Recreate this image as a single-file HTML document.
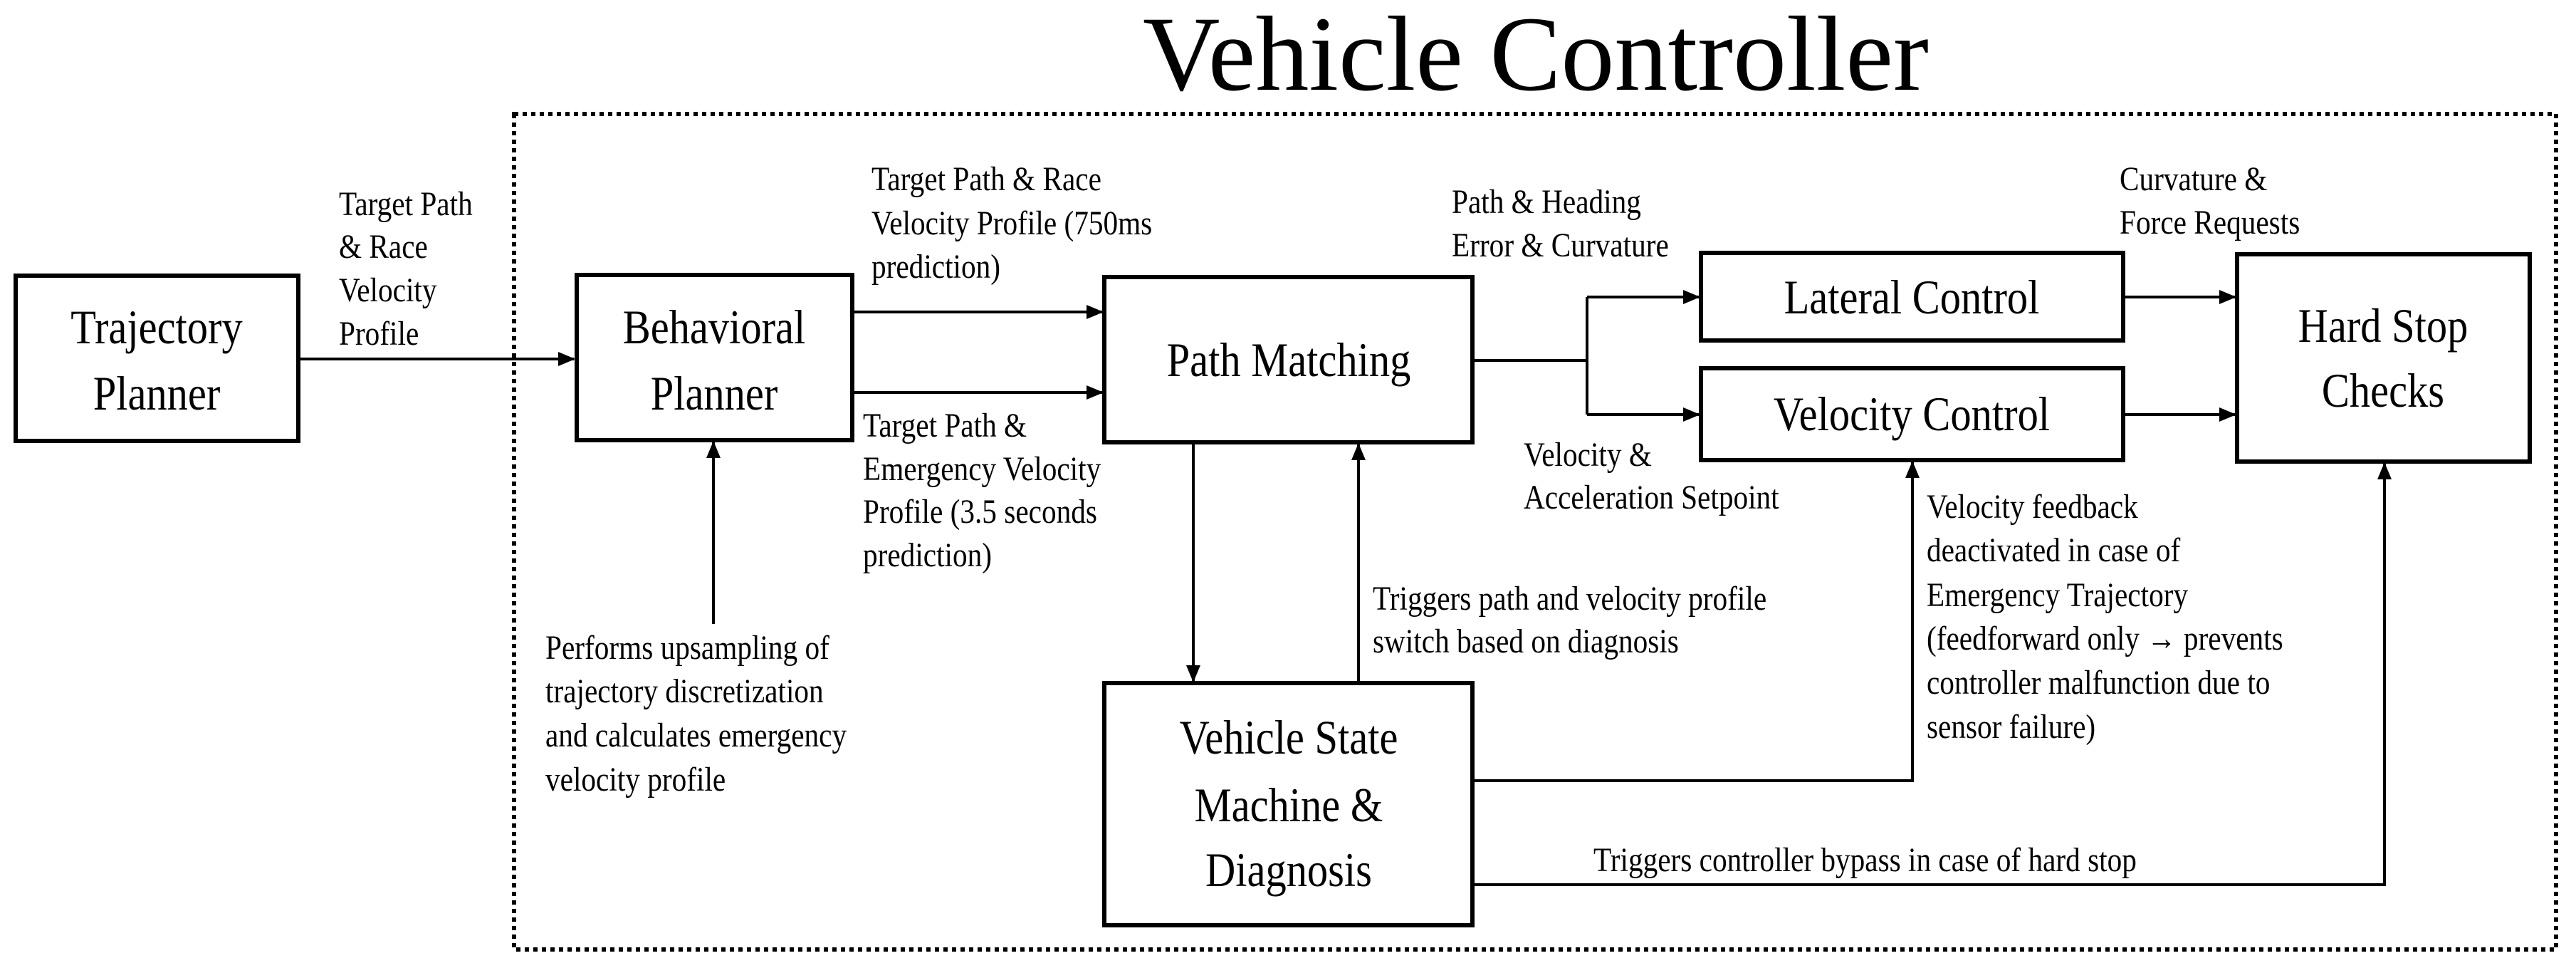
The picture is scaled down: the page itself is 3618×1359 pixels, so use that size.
<!DOCTYPE html>
<html><head><meta charset="utf-8"><style>
html,body{margin:0;padding:0;background:#fff;}
svg{display:block;}
text{font-family:"Liberation Serif",serif;fill:#000;}
.s text{font-size:48px;transform-box:fill-box;transform-origin:left center;transform:scaleX(0.86);}
.b text{font-size:68px;transform-box:fill-box;transform-origin:center center;transform:scaleX(0.86);}
</style></head><body>
<svg width="3618" height="1359" viewBox="0 0 3618 1359" xmlns="http://www.w3.org/2000/svg">
<defs>
<marker id="a" markerWidth="6" markerHeight="6" refX="5.5" refY="3" orient="auto" markerUnits="strokeWidth">
<path d="M0,0.5 L6,3 L0,5.5 z" fill="#000"/></marker>
</defs>
<text x="2157" y="126" font-size="150" text-anchor="middle">Vehicle Controller</text>
<rect x="722" y="160" width="2868" height="1173" fill="none" stroke="#000" stroke-width="6" stroke-dasharray="6,6"/>
<g fill="#fff" stroke="#000" stroke-width="6">
<rect x="22" y="387" width="397" height="232"/>
<rect x="810" y="386" width="387" height="232"/>
<rect x="1551" y="389" width="517" height="232"/>
<rect x="2389" y="355" width="593" height="123"/>
<rect x="2389" y="517" width="593" height="129"/>
<rect x="3142" y="357" width="411" height="291"/>
<rect x="1551" y="959" width="517" height="340"/>
</g>
<g class="b" text-anchor="middle">
<text x="220" y="482">Trajectory</text><text x="220" y="575">Planner</text>
<text x="1003" y="482">Behavioral</text><text x="1003" y="575">Planner</text>
<text x="1810" y="528">Path Matching</text>
<text x="2685" y="440">Lateral Control</text>
<text x="2685" y="604">Velocity Control</text>
<text x="3347" y="480">Hard Stop</text><text x="3347" y="571">Checks</text>
<text x="1810" y="1058">Vehicle State</text><text x="1810" y="1153">Machine &amp;</text><text x="1810" y="1244">Diagnosis</text>
</g>
<g fill="none" stroke="#000" stroke-width="4" marker-end="url(#a)">
<path d="M419,504 L806,504"/>
<path d="M1197,438 L1548,438"/>
<path d="M1197,551 L1548,551"/>
<path d="M1676,621 L1676,956"/>
<path d="M1908,959 L1908,624"/>
<path d="M2229,417 L2386,417"/>
<path d="M2229,582 L2386,582"/>
<path d="M2982,417 L3139,417"/>
<path d="M2982,582 L3139,582"/>
<path d="M2068,1096 L2686,1096 L2686,649"/>
<path d="M2068,1242 L3349,1242 L3349,651"/>
<path d="M1002,876 L1002,621"/>
</g>
<path d="M2068,506 L2229,506 M2229,417 L2229,582" stroke="#000" stroke-width="4" fill="none"/>
<g class="s">
<text x="476" y="302">Target Path</text><text x="476" y="362">&amp; Race</text><text x="476" y="423">Velocity</text><text x="476" y="484">Profile</text>
<text x="1224" y="267">Target Path &amp; Race</text><text x="1224" y="329">Velocity Profile (750ms</text><text x="1224" y="390">prediction)</text>
<text x="1212" y="613">Target Path &amp;</text><text x="1212" y="674">Emergency Velocity</text><text x="1212" y="734">Profile (3.5 seconds</text><text x="1212" y="795">prediction)</text>
<text x="766" y="925">Performs upsampling of</text><text x="766" y="986">trajectory discretization</text><text x="766" y="1048">and calculates emergency</text><text x="766" y="1110">velocity profile</text>
<text x="2039" y="299">Path &amp; Heading</text><text x="2039" y="360">Error &amp; Curvature</text>
<text x="2977" y="267">Curvature &amp;</text><text x="2977" y="328">Force Requests</text>
<text x="2140" y="654">Velocity &amp;</text><text x="2140" y="714">Acceleration Setpoint</text>
<text x="1928" y="856">Triggers path and velocity profile</text><text x="1928" y="916">switch based on diagnosis</text>
<text x="2706" y="727">Velocity feedback</text><text x="2706" y="788">deactivated in case of</text><text x="2706" y="851">Emergency Trajectory</text><text x="2706" y="912">(feedforward only → prevents</text><text x="2706" y="974">controller malfunction due to</text><text x="2706" y="1036">sensor failure)</text>
<text x="2238" y="1223">Triggers controller bypass in case of hard stop</text>
</g>
</svg>
</body></html>
